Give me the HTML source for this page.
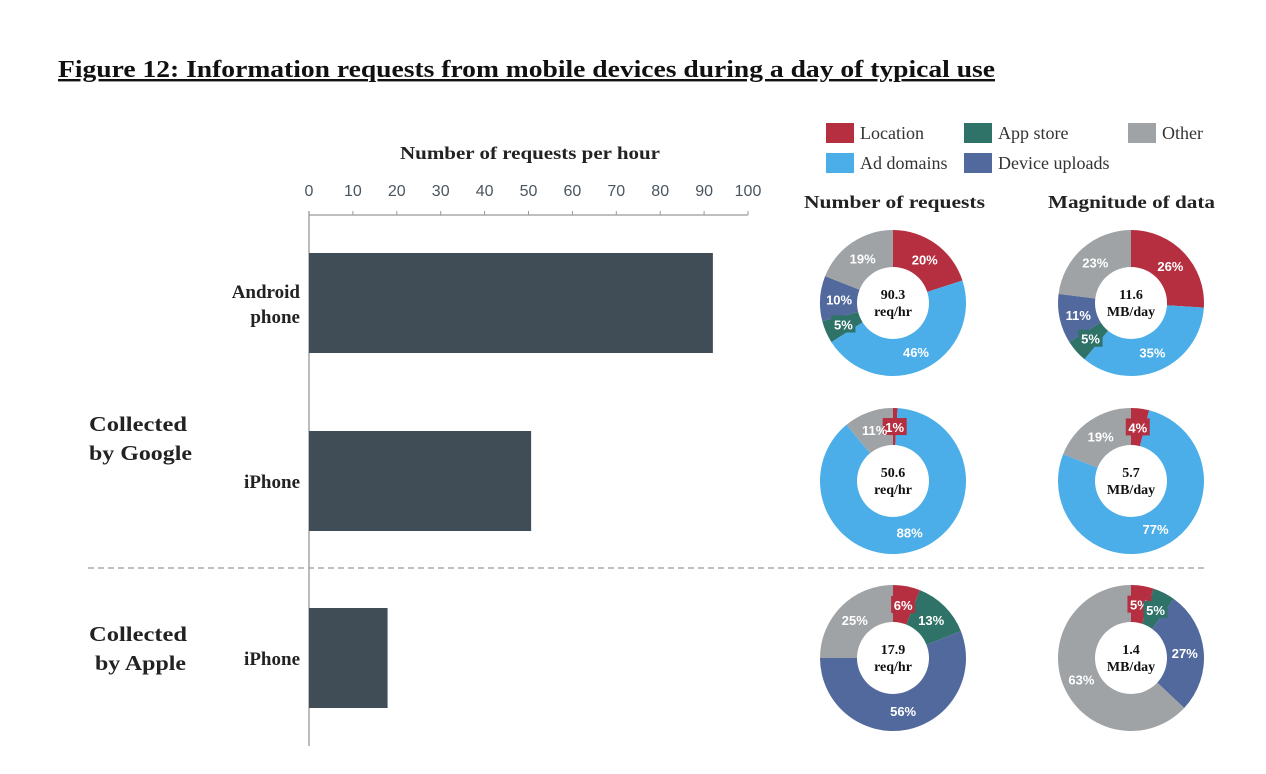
<!DOCTYPE html>
<html><head><meta charset="utf-8"><style>
body{margin:0;background:#fff;}
svg{display:block;font-family:"Liberation Serif",serif;}
</style></head><body>
<svg id="c" width="1266" height="774" viewBox="0 0 1266 774">
<text x="58" y="77" font-size="24" font-weight="bold" text-decoration="underline" fill="#111" textLength="937" lengthAdjust="spacingAndGlyphs">Figure 12: Information requests from mobile devices during a day of typical use</text>
<text x="400" y="159" font-size="18" font-weight="bold" fill="#222" textLength="260" lengthAdjust="spacingAndGlyphs">Number of  requests per hour</text>
<g id="axis"></g><g id="bars"></g>
<text font-size="21" font-weight="bold" fill="#222"><tspan x="89" y="431" textLength="98" lengthAdjust="spacingAndGlyphs">Collected</tspan><tspan x="89" y="460" textLength="103" lengthAdjust="spacingAndGlyphs">by Google</tspan></text>
<text font-size="21" font-weight="bold" fill="#222"><tspan x="89" y="641" textLength="98" lengthAdjust="spacingAndGlyphs">Collected</tspan><tspan x="95" y="670" textLength="91" lengthAdjust="spacingAndGlyphs">by Apple</tspan></text>
<line x1="88" y1="568" x2="1207" y2="568" stroke="#aaa" stroke-width="1.5" stroke-dasharray="6,4"/>
<g id="legend"></g>
<text x="804" y="208" font-size="18" font-weight="bold" fill="#222" textLength="181" lengthAdjust="spacingAndGlyphs">Number of  requests</text>
<text x="1048" y="208" font-size="18" font-weight="bold" fill="#222" textLength="167" lengthAdjust="spacingAndGlyphs">Magnitude of  data</text>
<g id="donuts"></g>
</svg>
<script>
const ticks=[0,10,20,30,40,50,60,70,80,90,100];
const barLabels=[["Android","phone"],["iPhone"],["iPhone"]];
const barValues=[92,50.6,17.9];
const catNames=["Location","Ad domains","App store","Device uploads","Other"];
const catColors=["#b52f41","#4baee8","#2e7268","#51699c","#9fa3a6"];
const reqShares=[[20,46,5,10,19],[1,88,0,0,11],[6,0,13,56,25]];
const dataShares=[[26,35,5,11,23],[4,77,0,0,19],[5,0,5,27,63]];
const reqCenters=["90.3","50.6","17.9"];
const dataCenters=["11.6","5.7","1.4"];
const NS="http://www.w3.org/2000/svg";
function mk(t,a,p){const e=document.createElementNS(NS,t);for(const k in a)e.setAttribute(k,a[k]);p.appendChild(e);return e;}
const x=v=>309+v*4.39;
const ax=document.getElementById('axis');
let l=mk('line',{x1:x(0),y1:215,x2:x(100),y2:215,stroke:'#999','stroke-width':1.3},ax);


l=mk('line',{x1:x(0),y1:211,x2:x(0),y2:746,stroke:'#999','stroke-width':1.3},ax);


ticks.forEach(t=>{
 const tk=mk('line',{x1:x(t),y1:211,x2:x(t),y2:215,stroke:'#999'},ax);
 
 
 const tx=mk('text',{x:x(t),y:196,'font-size':16,'text-anchor':'middle',fill:'#4a5560','font-family':'Liberation Sans, sans-serif'},ax);
 tx.textContent=t;
 
 
});
const bg=document.getElementById('bars');
const rowY=[303,481,658];
barValues.forEach((v,i)=>{
 const r=mk('rect',{x:x(0),y:rowY[i]-50,width:x(v)-x(0),height:100,fill:'#414d56'},bg);
 
 
 const lb=barLabels[i];
 const t=mk('text',{'font-size':19,'font-weight':'bold','text-anchor':'end',fill:'#222'},bg);
 
 
 lb.forEach((s,j)=>{const ts=mk('tspan',{x:300,y:rowY[i]+7-(lb.length-1)*12+j*25},t);ts.textContent=s;});
});
const lg=document.getElementById('legend');
const lpos=[[826,123],[826,153],[964,123],[964,153],[1128,123]];
catNames.forEach((n,i)=>{
 const g=mk('g',{},lg);
 
 
 mk('rect',{x:lpos[i][0],y:lpos[i][1],width:28,height:20,fill:catColors[i]},g);
 const t=mk('text',{x:lpos[i][0]+34,y:lpos[i][1]+16,'font-size':18,fill:'#333'},g);t.textContent=n;
});
const dg=document.getElementById('donuts');
function donut(cx,cy,shares,c1,c2,name){
 const g=mk('g',{},dg);
 
 
 const R=73,r0=28;let a=0;const tot=shares.reduce((s,v)=>s+v,0);
 const labs=[];
 shares.forEach((v,i)=>{
  if(!v)return;
  const a0=a/tot*2*Math.PI,a1=(a+v)/tot*2*Math.PI;a+=v;
  const p=(ang,rr)=>[cx+rr*Math.sin(ang),cy-rr*Math.cos(ang)];
  const [x0,y0]=p(a0,R),[x1,y1]=p(a1,R),big=(a1-a0)>Math.PI?1:0;
  const s=mk('path',{d:`M${cx},${cy}L${x0},${y0}A${R},${R} 0 ${big} 1 ${x1},${y1}Z`,fill:catColors[i]},g);
  
  
  labs.push([p((a0+a1)/2,54),v,i]);
 });
 mk('circle',{cx:cx,cy:cy,r:r0+8,fill:'#fff'},g);
 labs.forEach(([pt,v,i])=>{
  if(v<8)mk('rect',{x:pt[0]-12,y:pt[1]-9,width:24,height:17,fill:catColors[i]},g);
  const t=mk('text',{x:pt[0],y:pt[1]+5,'font-size':13,'font-weight':'bold','text-anchor':'middle',fill:'#fff','font-family':'Liberation Sans, sans-serif'},g);
  t.textContent=v+'%';
 });
 const c=mk('text',{'font-size':14,'font-weight':'bold','text-anchor':'middle',fill:'#111'},g);
 let ts=mk('tspan',{x:cx,y:cy-4},c);ts.textContent=c1;
 ts=mk('tspan',{x:cx,y:cy+13},c);ts.textContent=c2;
}
rowY.forEach((y,i)=>{
 donut(893,y,reqShares[i],reqCenters[i],'req/hr','donut-requests-'+i);
 donut(1131,y,dataShares[i],dataCenters[i],'MB/day','donut-data-'+i);
});
</script>
</body></html>
